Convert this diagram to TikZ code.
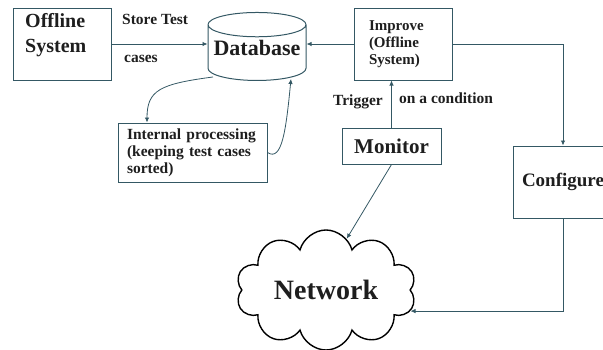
\documentclass[tikz,border=0pt]{standalone}
\usepackage{fontspec}
\setmainfont{Liberation Serif}
\usetikzlibrary{shapes.geometric,shapes.symbols,arrows.meta}
\definecolor{edgeteal}{RGB}{52,88,100}
\definecolor{inkdark}{RGB}{30,30,30}

\begin{document}
\begin{tikzpicture}[x=1pt, y=-1pt,
    box/.style={rectangle, draw=edgeteal, line width=1pt, text=inkdark},
    conn/.style={draw=edgeteal, line width=0.8pt, -{Latex[length=5pt,width=4.5pt]}},
    lbl/.style={text=inkdark, font=\fontsize{15.5}{17}\selectfont\bfseries, inner sep=0pt},
    dbfont/.style={font=\fontsize{22}{24}\selectfont\bfseries}]
    \useasboundingbox (0,0) rectangle (603,349);

    \node (offline) [box, minimum width=98pt, minimum height=72pt] at (62,44) {};
    \node (offlinetxt) [lbl, anchor=north west, align=left, font=\fontsize{20}{25}\selectfont\bfseries] at (25,13) {Offline\\System};
    \node (db) [cylinder, shape border rotate=90, draw=edgeteal, line width=1pt, aspect=0.26, minimum width=98pt, minimum height=68pt, dbfont,
        label={[text=inkdark, dbfont, yshift=7pt]center:Database}] at (257,55) {\phantom{Database}};
    \node (improve) [box, minimum width=98pt, minimum height=72pt, text width=68pt, align=left, font=\fontsize{15}{17}\selectfont\bfseries] at (403,44) {Improve\\(Offline\\System)};
    \node (inproc) [box, minimum width=149pt, minimum height=59pt, text width=131pt, align=left, font=\fontsize{15.5}{17}\selectfont\bfseries] at (192.5,152.5) {Internal processing\\(keeping test cases\\sorted)};
    \node (monitor) [box, minimum width=99pt, minimum height=36pt, font=\fontsize{21}{23}\selectfont\bfseries] at (391.5,146) {Monitor};
    \node (config) [box, minimum width=100pt, minimum height=72pt, font=\fontsize{19}{21}\selectfont\bfseries] at (563,182) {Configure};
    \node (network) [cloud, cloud puffs=10, aspect=1.8, draw=black, line width=1.4pt, minimum width=180pt, minimum height=86pt, text=inkdark, font=\fontsize{28}{30}\selectfont\bfseries] at (326,290) {Network};

    % labels
    \node (storelbl) [lbl, anchor=base west] at (122,24) {Store Test};
    \node (caseslbl) [lbl, anchor=base west] at (124,62) {cases};
    \node (triggerlbl) [lbl, anchor=base east] at (383,105) {Trigger};
    \node (condlbl) [lbl, anchor=base west] at (399,103) {on a condition};

    % connectors
    \draw [conn] (offline.east) -- (offline.east -| db.west);
    \draw [conn] (improve.west) -- (improve.west -| db.east);
    \draw [conn] (improve.east) -| (config.north);
    \draw [conn] (config.south) |- (network.-14);
    \draw [conn] (monitor.north) -- (monitor.north |- improve.south);
    \draw [conn] (monitor.south) -- (network.68);
    \draw [conn] ([xshift=-44pt, yshift=4pt]db.south) .. controls (160,84) and (147,90) .. ([xshift=-45.5pt]inproc.north);
    \draw [conn] (inproc.east) .. controls (282,162) and (286,130) .. ([xshift=34pt, yshift=2pt]db.south);
\end{tikzpicture}
\end{document}
